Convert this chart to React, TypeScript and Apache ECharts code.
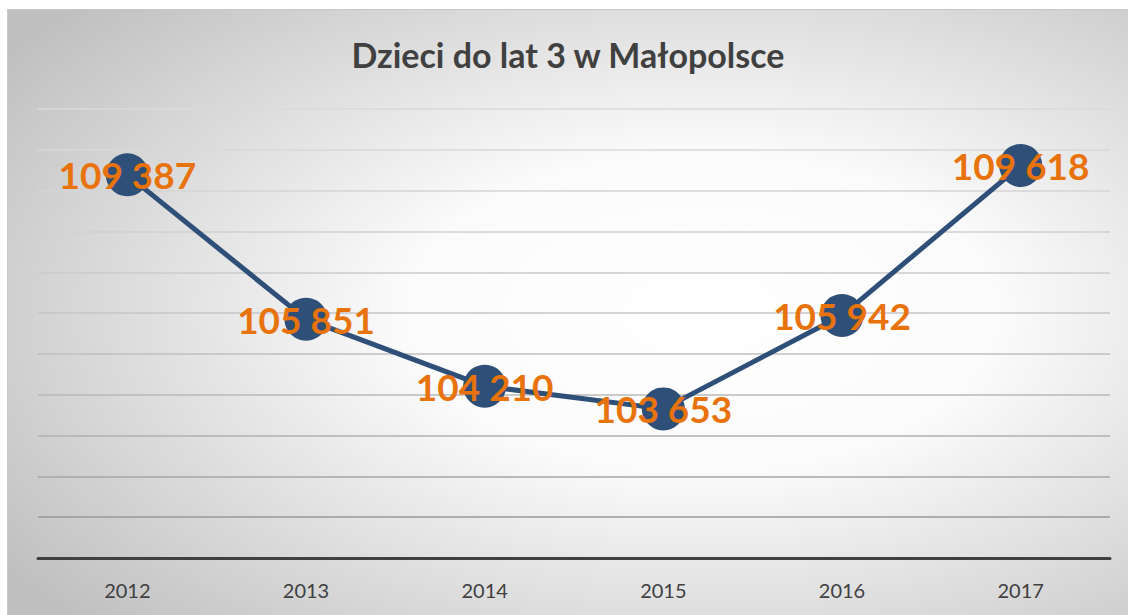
import React, { useEffect, useRef } from "react";
import * as echarts from "echarts";

const TITLE = "Dzieci do lat 3 w Małopolsce";
const YEARS = ["2012", "2013", "2014", "2015", "2016", "2017"];
const CHILDREN = [109387, 105851, 104210, 103653, 105942, 109618];
const Y_MIN = 100000;
const Y_MAX = 111000;
const Y_STEP = 1000;

const fmt = (v: number) => {
  const s = String(Math.round(v));
  return s.replace(/\B(?=(\d{3})+(?!\d))/g, " ");
};

export default function App() {
  const ref = useRef<HTMLDivElement>(null);
  useEffect(() => {
    if (!ref.current) return;
    const chart = echarts.init(ref.current, undefined, { renderer: "svg" });
    const gridColors = [
      "#8c8c8c", "#999999", "#a6a6a6", "#b0b0b0", "#b8b8b8", "#bfbfbf",
      "#c6c6c6", "#cbcbcb", "#d0d0d0", "#d4d4d4", "#d8d8d8", "#dadada",
    ];
    chart.setOption({
      animation: false,
      backgroundColor: {
        type: "radial",
        x: 0.62,
        y: 0.5,
        r: 0.75,
        colorStops: [
          { offset: 0, color: "#ffffff" },
          { offset: 0.35, color: "#fbfbfb" },
          { offset: 1, color: "#c0c0c0" },
        ],
      },
      title: {
        text: TITLE,
        left: "center",
        top: 22,
        textStyle: {
          fontFamily: "Lato",
          fontWeight: "bold",
          fontSize: 34,
          color: "#404040",
        },
      },
      grid: { left: 30, right: 18, top: 99, bottom: 57 },
      xAxis: {
        type: "category",
        data: YEARS,
        boundaryGap: true,
        axisLine: { lineStyle: { color: "#404040", width: 3 } },
        axisTick: { show: false },
        axisLabel: {
          color: "#404040",
          fontFamily: "Lato",
          fontSize: 20,
          margin: 22,
        },
      },
      yAxis: {
        type: "value",
        min: Y_MIN,
        max: Y_MAX,
        interval: Y_STEP,
        axisLabel: { show: false },
        axisLine: { show: false },
        axisTick: { show: false },
        splitLine: { lineStyle: { color: gridColors, width: 1.5 } },
      },
      series: [
        {
          type: "line",
          data: CHILDREN,
          symbol: "circle",
          symbolSize: 43,
          lineStyle: { color: "#2e4f78", width: 5 },
          itemStyle: { color: "#2e4f78" },
          label: {
            show: true,
            position: "inside",
            formatter: (p: any) => fmt(p.value),
            color: "#e8730c",
            fontFamily: "Lato",
            fontWeight: "bold",
            fontSize: 37,
          },
        },
      ],
    });
    return () => chart.dispose();
  }, []);
  return (
    <div
      style={{
        position: "absolute",
        left: 7,
        top: 9,
        width: 1121,
        height: 606,
        boxSizing: "border-box",
        borderTop: "1px solid #c8c8c8",
        borderLeft: "1px solid #c8c8c8",
      }}
    >
      <div ref={ref} style={{ width: 1120, height: 605 }} />
    </div>
  );
}
